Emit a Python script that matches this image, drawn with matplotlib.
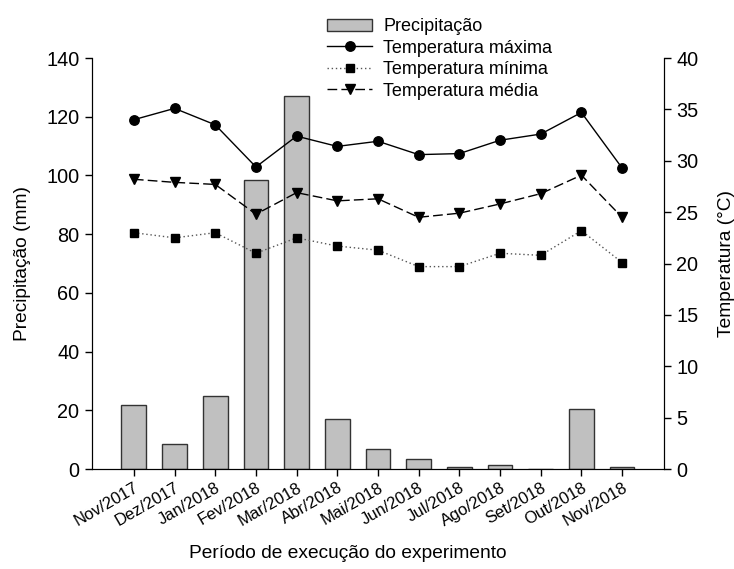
import matplotlib
matplotlib.use("Agg")
import matplotlib.pyplot as plt
import numpy as np

plt.rcParams['font.family'] = ['Liberation Sans', 'DejaVu Sans']

meses = ["Nov/2017", "Dez/2017", "Jan/2018", "Fev/2018", "Mar/2018", "Abr/2018",
         "Mai/2018", "Jun/2018", "Jul/2018", "Ago/2018", "Set/2018", "Out/2018",
         "Nov/2018"]
precipitacao = [21.7, 8.4, 25.0, 98.4, 127.0, 16.9, 6.8, 3.4, 0.8, 1.5, 0.0, 20.5, 0.8]
temp_max = [34.0, 35.1, 33.5, 29.4, 32.4, 31.4, 31.9, 30.6, 30.7, 32.0, 32.6, 34.7, 29.3]
temp_min = [23.0, 22.5, 23.0, 21.0, 22.5, 21.7, 21.3, 19.7, 19.7, 21.0, 20.8, 23.2, 20.1]
temp_med = [28.2, 27.9, 27.7, 24.8, 26.9, 26.1, 26.3, 24.5, 24.9, 25.8, 26.8, 28.6, 24.5]

x = np.arange(len(meses))

fig = plt.figure(figsize=(7.34, 5.69), dpi=100)
ax = fig.add_axes([0.1253, 0.1757, 0.7793, 0.7223])
ax2 = ax.twinx()

bars = ax.bar(x, precipitacao, width=0.61, color="#c0c0c0", edgecolor="#333333",
              linewidth=1.0, label="Precipitação", zorder=2)
ax.set_ylim(0, 140)
ax.set_yticks(np.arange(0, 141, 20))
ax.set_xlim(-1.03, 13.03)
ax.set_xticks(x)
ax.set_xticklabels(meses, rotation=30, ha="right", rotation_mode="anchor")
ax.set_ylabel("Precipitação (mm)", fontsize=13.8, labelpad=11)

l1, = ax2.plot(x, temp_max, color="black", linestyle="-", linewidth=1.0, marker="o",
               markersize=6.8, label="Temperatura máxima")
l2, = ax2.plot(x, temp_min, color="#555555", linestyle=(0, (1, 2)), linewidth=1.0,
               marker="s", markersize=6.2, markerfacecolor="black", markeredgecolor="black",
               label="Temperatura mínima")
l3, = ax2.plot(x, temp_med, color="black", linestyle=(0, (7, 3)), linewidth=1.0,
               marker="v", markersize=7.2, label="Temperatura média")
ax2.set_ylim(0, 40)
ax2.set_yticks(np.arange(0, 41, 5))
ax2.set_ylabel("Temperatura (°C)", fontsize=13.8, labelpad=14)

for a in (ax, ax2):
    a.spines["top"].set_visible(False)
    a.tick_params(axis="both", direction="out", length=5, width=1, labelsize=14.3, pad=4)
ax.tick_params(axis="x", labelsize=12, pad=3)

fig.text(348 / 734, 1 - 553 / 569, "Período de execução do experimento",
         ha="center", va="center", fontsize=13.8)

fig.legend(handles=[bars, l1, l2, l3],
           labels=["Precipitação", "Temperatura máxima", "Temperatura mínima",
                   "Temperatura média"],
           loc="upper left", bbox_to_anchor=(320 / 734, 1 - 11 / 569),
           frameon=False, fontsize=13, handlelength=2.5, handletextpad=0.6,
           labelspacing=0.25, borderaxespad=0)

fig.savefig("out.png", dpi=100)
